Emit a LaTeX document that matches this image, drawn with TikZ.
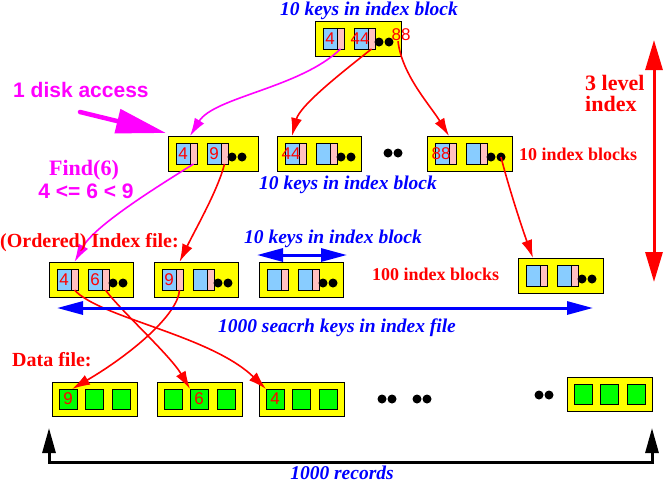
\documentclass[tikz,border=0pt]{standalone}
\usepackage{fontspec}
\setmainfont{Liberation Serif}
\setsansfont{Liberation Sans}
\usetikzlibrary{arrows.meta}
\definecolor{cellblue}{HTML}{88CCFF}
\definecolor{cellpink}{HTML}{FFC0C0}
\definecolor{blkyellow}{HTML}{FFFF00}
\definecolor{cellgreen}{HTML}{00FF00}
\definecolor{mymag}{HTML}{FF00FF}
\definecolor{myred}{HTML}{FF0000}
\definecolor{myblue}{HTML}{0000FF}
\tikzset{
  blk/.style={draw=black, fill=blkyellow, line width=1pt, anchor=north west, inner sep=0pt, outer sep=0pt, minimum height=35pt},
  bcell/.style={draw=black, fill=cellblue, line width=1pt, anchor=north west, inner sep=0pt, outer sep=0pt, minimum width=14pt, minimum height=21pt},
  pcell/.style={draw=black, fill=cellpink, line width=1pt, anchor=north west, inner sep=0pt, outer sep=0pt, minimum width=7pt, minimum height=21pt},
  gcell/.style={draw=black, fill=cellgreen, line width=1pt, anchor=north west, inner sep=0pt, outer sep=0pt, minimum width=18pt, minimum height=20pt},
  bdot/.style={circle, fill=black, inner sep=0pt, outer sep=0pt, minimum size=9pt},
  keylab/.style={text=myred, font=\sffamily\fontsize{17}{17}\selectfont, inner sep=0pt},
  bluetxt/.style={text=myblue, font=\bfseries\itshape\fontsize{19.5}{21}\selectfont, inner sep=0pt, anchor=base},
  redtxt/.style={text=myred, font=\bfseries\fontsize{18}{20}\selectfont, inner sep=0pt, anchor=base west},
  bigred/.style={text=myred, font=\bfseries\fontsize{20}{22}\selectfont, inner sep=0pt, anchor=base west},
  magtxt/.style={text=mymag, inner sep=0pt},
  redarr/.style={draw=myred, line width=1.6pt, -{Latex[length=18pt,width=11pt]}},
  magarr/.style={draw=mymag, line width=1.6pt, -{Latex[length=18pt,width=11pt]}},
  bluearr/.style={draw=myblue, line width=3pt, {Triangle[length=26pt,width=13pt]}-{Triangle[length=26pt,width=13pt]}},
  blackarr/.style={draw=black, line width=3pt, {Triangle[length=25pt,width=13pt]}-{Triangle[length=25pt,width=13pt]}},
  redvarr/.style={draw=myred, line width=3pt, {Triangle[length=30pt,width=17pt]}-{Triangle[length=30pt,width=17pt]}}
}
\newcommand{\idxblock}[4]{%
  \node[blk, minimum width=#4] (#1) at (#2,#3) {};
  \node[bcell] (#1-a) at ([xshift=8pt,yshift=-7pt]#1.north west) {};
  \node[pcell] (#1-ap) at (#1-a.north east) {};
  \node[bcell] (#1-b) at ([xshift=39pt,yshift=-7pt]#1.north west) {};
  \node[pcell] (#1-bp) at (#1-b.north east) {};
  \node[bdot] (#1-d1) at ([xshift=64pt,yshift=-21pt]#1.north west) {};
  \node[bdot] (#1-d2) at ([xshift=74pt,yshift=-21pt]#1.north west) {};
}
\newcommand{\datblock}[3]{%
  \node[blk, minimum width=85pt, minimum height=34pt] (#1) at (#2,#3) {};
  \node[gcell] (#1-a) at ([xshift=7pt,yshift=-7pt]#1.north west) {};
  \node[gcell] (#1-b) at ([xshift=33pt,yshift=-7pt]#1.north west) {};
  \node[gcell] (#1-c) at ([xshift=60pt,yshift=-7pt]#1.north west) {};
}
\begin{document}
\begin{tikzpicture}[x=1pt,y=-1pt]
\path[fill=white] (0,0) rectangle (664,483);
\useasboundingbox (0,0) rectangle (664,483);

% ---- blocks ----
\idxblock{t}{315}{21}{86pt}
\idxblock{l2a}{168}{136}{90pt}
\idxblock{l2b}{277}{136}{84pt}
\idxblock{l2c}{427}{136}{85pt}
\idxblock{l3a}{49}{262}{84pt}
\idxblock{l3b}{154}{262}{84pt}
\idxblock{l3c}{259}{262}{84pt}
\idxblock{l3d}{518}{258}{85pt}
\datblock{d1}{52}{382}
\datblock{d2}{157}{382}
\datblock{d3}{259}{382}
\datblock{d4}{567}{377}

% ---- loose dots ----
\node[bdot] (m1) at (388,153) {};
\node[bdot] (m2) at (398,153) {};
\node[bdot] (e1) at (382,399) {};
\node[bdot] (e2) at (392,399) {};
\node[bdot] (e3) at (417,399) {};
\node[bdot] (e4) at (427,399) {};
\node[bdot] (e5) at (539,395) {};
\node[bdot] (e6) at (549,395) {};

% ---- key labels ----
\node[keylab] (tk1) at (t-a) {4};
\node[keylab] (tk2) at ([xshift=-1pt]t-b.center) {44};
\node[keylab] (tk3) at (401,35) {88};
\node[keylab] (ak1) at (l2a-a) {4};
\node[keylab] (ak2) at (l2a-b) {9};
\node[keylab] (bk1) at ([xshift=-1pt]l2b-a.center) {44};
\node[keylab] (ck1) at ([xshift=-1pt]l2c-a.center) {88};
\node[keylab] (lk1) at (l3a-a) {4};
\node[keylab] (lk2) at (l3a-b) {6};
\node[keylab] (lk3) at (l3b-a) {9};
\node[keylab] (dk1) at (d1-a) {9};
\node[keylab] (dk2) at (d2-b) {6};
\node[keylab] (dk3) at (d3-a) {4};

% ---- connectors top -> level 2 ----
\draw[magarr] (t-ap.south) .. controls (300,88) and (214,97) .. (l2a-a.north east |- l2a.north);
\draw[redarr] (t-bp.south) .. controls (345,70) and (300,105) .. (l2b-a.north |- l2b.north);
\draw[redarr] ([xshift=-3pt]tk3.south) .. controls (402,75) and (430,105) .. (l2c-a.north east |- l2c.north);

% ---- level 2 -> level 3 ----
\draw[magarr] (l2a-ap.south) .. controls (160,185) and (95,225) .. (l3a-ap.north |- l3a.north);
\draw[redarr] (l2a-bp.south) .. controls (218,190) and (195,230) .. (l3b-ap.north |- l3b.north);
\draw[redarr] (l2c-d2.center) .. controls (508,185) and (522,228) .. (l3d-a.north |- l3d.north);

% ---- level 3 -> data ----
\draw[redarr] (l3a-ap.south) .. controls (100,318) and (210,335) .. (d3-a.north west);
\draw[redarr] (l3a-bp.south) .. controls (120,310) and (170,355) .. (d2-b.north west);
\draw[redarr] (l3b-ap.south) .. controls (178,315) and (130,355) .. ([xshift=4pt]d1-a.north);

% ---- big arrows ----
\coordinate (da1) at (80,112);
\coordinate (da2) at (166,133);
\draw[draw=mymag, line width=4.5pt, line cap=round, -{Triangle[length=50pt,width=24pt]}] (da1) -- (da2);

\coordinate (kb1) at (257,255);
\coordinate (kb2) at (347,255);
\draw[bluearr] (kb1) -- (kb2);
\coordinate (sk1) at (57,308);
\coordinate (sk2) at (593,308);
\draw[bluearr] (sk1) -- (sk2);

\coordinate (bl) at (49,428);
\coordinate (bc1) at (49,462);
\coordinate (bc2) at (652,462);
\coordinate (br) at (652,428);
\draw[blackarr] (bl) -- (bc1) -- (bc2) -- (br);

\coordinate (rv1) at (654,40);
\coordinate (rv2) at (654,282);
\draw[redvarr] (rv1) -- (rv2);

% ---- texts ----
\node[bluetxt] (tx1) at (369,15) {10 keys in index block};
\node[bluetxt] (tx2) at (348,189) {10 keys in index block};
\node[bluetxt] (tx3) at (333,243) {10 keys in index block};
\node[bluetxt] (tx4) at (337,332) {1000 seacrh keys in index file};
\node[bluetxt] (tx5) at (342,479) {1000 records};
\node[redtxt] (tx6) at (519,160) {10 index blocks};
\node[redtxt] (tx7) at (372,280) {100 index blocks};
\node[bigred] (tx8) at (0,247) {(Ordered) Index file:};
\node[bigred] (tx9) at (12,366) {Data file:};
\node[bigred, font=\bfseries\fontsize{22}{22}\selectfont] (tx10) at (585,90) {3 level};
\node[bigred, font=\bfseries\fontsize{22}{22}\selectfont] (tx11) at (585,111) {index};
\node[magtxt, anchor=base west, font=\sffamily\bfseries\fontsize{21}{21}\selectfont] (tx12) at (13,97) {1 disk access};
\node[magtxt, anchor=base, font=\bfseries\fontsize{22}{22}\selectfont] (tx13) at (84,175) {Find(6)};
\node[magtxt, anchor=base, font=\sffamily\bfseries\fontsize{21}{21}\selectfont] (tx14) at (86,198) {4 <= 6 < 9};
\end{tikzpicture}
\end{document}
